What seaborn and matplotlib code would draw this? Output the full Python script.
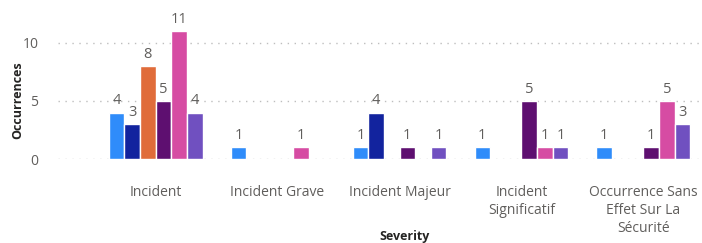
import numpy as np
import pandas as pd
import matplotlib
matplotlib.use("Agg")
import matplotlib.pyplot as plt
import seaborn as sns

categories = ["Incident", "Incident Grave", "Incident Majeur",
              "Incident\nSignificatif", "Occurrence Sans\nEffet Sur La\nSécurité"]
series = ["Série 1", "Série 2", "Série 3", "Série 4", "Série 5", "Série 6"]
s1 = [4, 1, 1, 1, 1]
s2 = [3, np.nan, 4, np.nan, np.nan]
s3 = [8, np.nan, np.nan, np.nan, np.nan]
s4 = [5, np.nan, 1, 5, 1]
s5 = [11, 1, np.nan, 1, 5]
s6 = [4, np.nan, 1, 1, 3]
colors = ["#2F8CFA", "#12239E", "#E06C3A", "#5E0F70", "#D64CA3", "#7050C0"]

rows = []
for name, vals in zip(series, [s1, s2, s3, s4, s5, s6]):
    for c, v in zip(categories, vals):
        rows.append({"Severity": c, "Series": name, "Occurrences": v})
df = pd.DataFrame(rows)

sns.set_theme(style="white")
plt.rcParams['font.family'] = ['Open Sans', 'DejaVu Sans']

fig = plt.figure(figsize=(7.02, 2.43), dpi=100)
ax = fig.add_axes([58/702, (243-159)/243, 1 - 58/702, (159-8)/243])

sns.barplot(data=df, x="Severity", y="Occurrences", hue="Series",
            order=categories, hue_order=series, palette=colors,
            width=0.77, gap=0, dodge=True, errorbar=None, legend=False,
            saturation=1, ax=ax)

gray = "#605E5C"
for cont in ax.containers:
    labels = ["" if (np.isnan(v) or v == 0) else f"{v:.0f}" for v in cont.datavalues]
    ax.bar_label(cont, labels=labels, padding=3, fontsize=10.5, color=gray)

ax.set_xlim(-0.8, 4.48)
ax.set_ylim(0, 13)
ax.set_yticks([0, 5, 10])
ax.grid(axis="y", linestyle=(0, (1, 4)), color="#BEBEBE", linewidth=1)
ax.set_axisbelow(True)
for sp in ax.spines.values():
    sp.set_visible(False)
ax.tick_params(axis="x", length=0, labelsize=10, colors=gray, pad=19)
ax.tick_params(axis="y", length=0, labelsize=10, colors=gray, pad=14)
for t in ax.get_xticklabels():
    t.set_linespacing(1.25)
ax.set_xlabel("")
ax.set_ylabel("")
fig.text(405/702, 1 - 236/243, "Severity", fontsize=9, fontweight="bold",
         color="#252423", ha="center", va="center")
fig.text(18/702, 1 - 100/243, "Occurrences", fontsize=9, fontweight="bold",
         color="#252423", ha="center", va="center", rotation=90)

fig.savefig("out.png", dpi=100)
